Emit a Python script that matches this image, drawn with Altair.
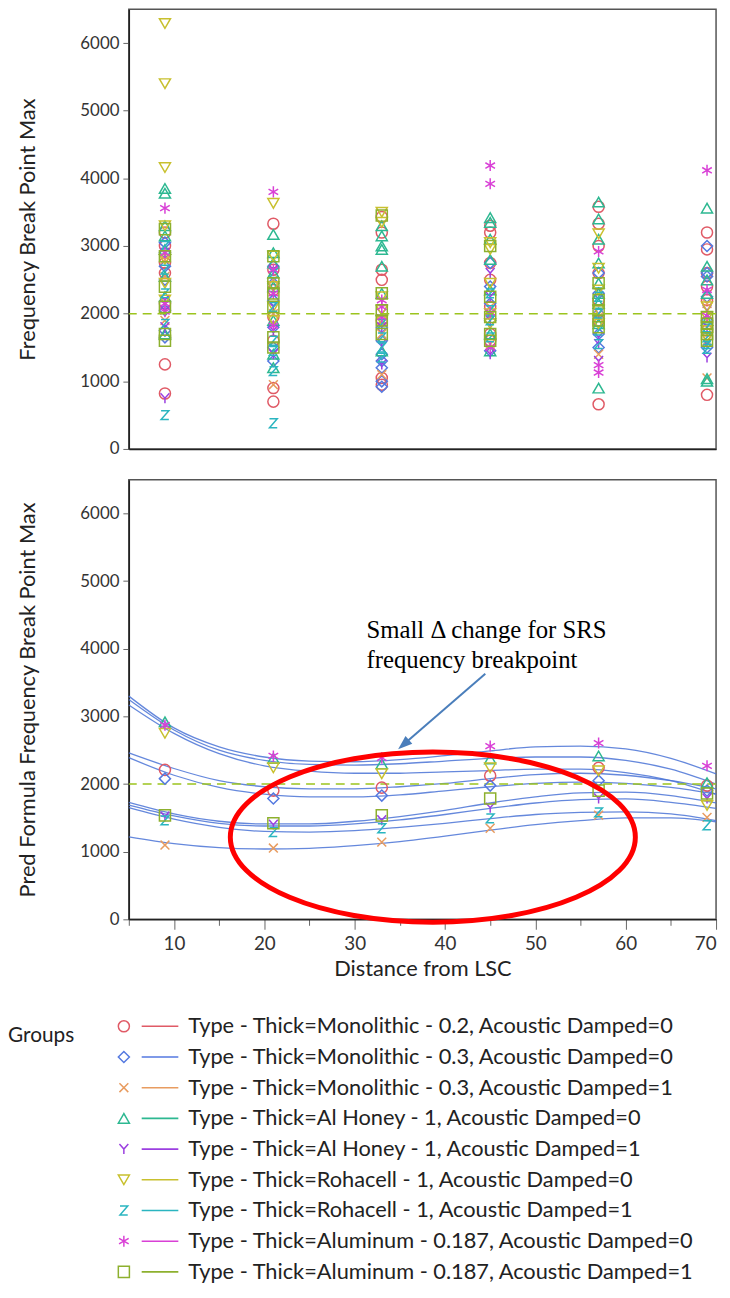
import altair as alt
import pandas as pd

# ---------------- data ----------------
GROUPS = [
    "Type - Thick=Monolithic - 0.2, Acoustic Damped=0",
    "Type - Thick=Monolithic - 0.3, Acoustic Damped=0",
    "Type - Thick=Monolithic - 0.3, Acoustic Damped=1",
    "Type - Thick=Al Honey - 1, Acoustic Damped=0",
    "Type - Thick=Al Honey - 1, Acoustic Damped=1",
    "Type - Thick=Rohacell - 1, Acoustic Damped=0",
    "Type - Thick=Rohacell - 1, Acoustic Damped=1",
    "Type - Thick=Aluminum - 0.187, Acoustic Damped=0",
    "Type - Thick=Aluminum - 0.187, Acoustic Damped=1",
]
COLORS = ["#E05A66", "#5479E0", "#E89C60", "#2DB891", "#9B3FE0",
          "#C8C02E", "#2AB5C0", "#D940D6", "#8DB02E"]
SHAPES = [
    "circle",
    "diamond",
    "M-0.8,-0.8L0.8,0.8M-0.8,0.8L0.8,-0.8",
    "triangle-up",
    "M-0.8,-0.9L0,0L0.8,-0.9M0,0L0,0.9",
    "triangle-down",
    "M-0.7,-0.8L0.7,-0.8L-0.7,0.8L0.7,0.8",
    "M0,-1L0,1M-0.87,-0.5L0.87,0.5M-0.87,0.5L0.87,-0.5",
    "square",
]

X_LEVELS = [9, 21, 33, 45, 57, 69]
CURVE_X = [5, 10, 15, 20, 25, 30, 35, 40, 45, 50, 55, 60, 65, 70]
REF_LINE = [2000]
ANNOTATION = ["Small \u0394 change for SRS", "frequency breakpoint"]

# observed Frequency Break Point Max (top panel), one list per distance level
top_mono02_ad0 = [[3200, 3000, 2750, 2600, 2150, 1250, 820], [3330, 2650, 2350, 1950, 1600, 900, 700],
                  [3430, 3200, 2650, 2500, 1900, 1050, 950], [3300, 3200, 2750, 2500, 2100, 1700, 1600],
                  [3580, 3330, 3000, 2600, 2200, 1900, 660], [3200, 2950, 2600, 2400, 2200, 1750, 800]]
top_mono03_ad0 = [[3050, 2900, 2700, 2500, 2050, 1750, 1650], [2700, 2450, 2200, 1800, 1500, 1300],
                  [1800, 1600, 1400, 1300, 1200, 1000, 920], [2750, 2400, 2150, 1900, 1450],
                  [2600, 2300, 2000, 1700, 1500], [3000, 2600, 2550, 2250, 1900, 1500]]
top_mono03_ad1 = [[2800, 2550, 1900], [2500, 2000, 950], [1900, 1700, 1100],
                  [2100, 1550], [1950, 1400], [2150, 1600, 1050]]
top_alhoney_ad0 = [[3850, 3780, 3300, 3150, 2950, 2550, 2250, 1700], [3170, 2900, 2750, 2600, 2400, 1900, 1400, 1200],
                   [3300, 3150, 3000, 2950, 2700, 2300, 1450], [3420, 3350, 3100, 2800, 2350, 1700, 1450],
                   [3650, 3400, 3100, 2750, 2450, 2300, 2150, 1850, 900], [3560, 2700, 2500, 2300, 1900, 1040, 1000]]
top_alhoney_ad1 = [[2900, 2200, 2050, 1800, 750], [2650, 2100, 1750, 1400], [2000, 1800, 1550, 1250],
                   [2600, 2250, 1900, 1400], [2000, 1650, 1550, 1300], [2050, 1800, 1550, 1350]]
top_rohacell_ad0 = [[6290, 5400, 4160, 3300, 2800, 2450, 2200], [3630, 2850, 2400, 2100, 1900],
                    [3500, 3350, 2250, 2050, 1900], [3050, 2950, 2450, 2000, 1850],
                    [3180, 2670, 2350, 2050, 1850], [2100, 1950, 1750, 1650]]
top_rohacell_ad1 = [[3000, 2650, 2300, 1850, 500], [2600, 2100, 1600, 1450, 1150, 380], [1850, 1650, 1500, 1350],
                    [2300, 2050, 1900, 1650], [2250, 2000, 1750, 1550], [1800, 1650, 1550, 1480]]
top_alum_ad0 = [[3560, 2900, 2150, 2030], [3800, 2650, 2300, 1820], [2200, 2100, 1950],
                [4190, 3920, 2020, 1500], [2920, 1240, 1130], [4120, 2350, 1970]]
top_alum_ad1 = [[3250, 2850, 2400, 2100, 1700, 1600], [2850, 2450, 2300, 2100, 1650, 1500],
                [3450, 2300, 2050, 1900, 1700], [3000, 2250, 1950, 1700, 1600],
                [2450, 2200, 2050, 1900, 1800], [1950, 1850, 1800, 1700, 1600]]

# predicted values (bottom panel markers)
pred_mono02_ad0 = [2210, 1903, 1947, 2123, 2240, 1977]
pred_mono03_ad0 = [2080, 1786, 1830, 1977, 2050, 1903]
pred_mono03_ad1 = [1098, 1054, 1142, 1347, 1540, 1508]
pred_alhoney_ad0 = [2920, 2380, 2299, 2372, 2416, 2020]
pred_alhoney_ad1 = [1520, 1400, 1464, 1650, 1786, 1786]
pred_rohacell_ad0 = [2750, 2240, 2152, 2240, 2196, 1684]
pred_rohacell_ad1 = [1464, 1290, 1347, 1493, 1581, 1391]
pred_alum_ad0 = [2870, 2416, 2387, 2562, 2606, 2270]
pred_alum_ad1 = [1537, 1420, 1537, 1786, 1903, 1860]

# fitted curves (read at CURVE_X)
curve_mono02_ad0 = [2460, 2230, 2050, 1960, 1930, 1930, 1960, 2010, 2080, 2140, 2160, 2130, 2050, 1930]
curve_mono03_ad0 = [2390, 2130, 1950, 1850, 1810, 1810, 1840, 1900, 1960, 2010, 2030, 2010, 1950, 1850]
curve_mono03_ad1 = [1220, 1120, 1060, 1040, 1050, 1090, 1150, 1230, 1320, 1400, 1460, 1500, 1500, 1440]
curve_alhoney_ad0 = [3250, 2800, 2500, 2350, 2290, 2280, 2300, 2340, 2380, 2400, 2400, 2350, 2220, 2000]
curve_alhoney_ad1 = [1690, 1530, 1420, 1380, 1380, 1410, 1470, 1550, 1640, 1720, 1770, 1780, 1730, 1640]
curve_rohacell_ad0 = [3170, 2750, 2450, 2270, 2190, 2160, 2160, 2180, 2200, 2220, 2220, 2170, 2050, 1850]
curve_rohacell_ad1 = [1650, 1480, 1360, 1300, 1290, 1310, 1360, 1420, 1490, 1550, 1580, 1590, 1560, 1460]
curve_alum_ad0 = [3300, 2830, 2550, 2400, 2340, 2330, 2360, 2420, 2490, 2550, 2560, 2520, 2380, 2150]
curve_alum_ad1 = [1730, 1560, 1450, 1410, 1410, 1450, 1520, 1610, 1720, 1810, 1870, 1880, 1830, 1720]

TOP_SERIES = [top_mono02_ad0, top_mono03_ad0, top_mono03_ad1, top_alhoney_ad0, top_alhoney_ad1,
              top_rohacell_ad0, top_rohacell_ad1, top_alum_ad0, top_alum_ad1]
PRED_SERIES = [pred_mono02_ad0, pred_mono03_ad0, pred_mono03_ad1, pred_alhoney_ad0, pred_alhoney_ad1,
               pred_rohacell_ad0, pred_rohacell_ad1, pred_alum_ad0, pred_alum_ad1]
CURVE_SERIES = [curve_mono02_ad0, curve_mono03_ad0, curve_mono03_ad1, curve_alhoney_ad0, curve_alhoney_ad1,
                curve_rohacell_ad0, curve_rohacell_ad1, curve_alum_ad0, curve_alum_ad1]

top_rows = []
for g, series in zip(GROUPS, TOP_SERIES):
    for x, vals in zip(X_LEVELS, series):
        for v in vals:
            top_rows.append({"group": g, "dist": x, "val": v})
top_df = pd.DataFrame(top_rows)

pred_df = pd.DataFrame([{"group": g, "dist": x, "val": v}
                        for g, s in zip(GROUPS, PRED_SERIES) for x, v in zip(X_LEVELS, s)])
curve_df = pd.DataFrame([{"group": g, "dist": x, "val": v}
                         for g, s in zip(GROUPS, CURVE_SERIES) for x, v in zip(CURVE_X, s)])
ref_df = pd.DataFrame({"ref": REF_LINE})
legend_df = pd.DataFrame({"group": GROUPS, "idx": list(range(len(GROUPS)))})

# ---------------- styling ----------------
FONT = "Lato"
W, H = 593, 444
xscale = alt.Scale(domain=[5, 70], nice=False, zero=False)
yscale = alt.Scale(domain=[0, 6500], nice=False)
color_enc = alt.Color("group:N", scale=alt.Scale(domain=GROUPS, range=COLORS), legend=None)
shape_enc = alt.Shape("group:N", scale=alt.Scale(domain=GROUPS, range=SHAPES), legend=None)


def y_axis(title):
    return alt.Axis(title=title, values=list(range(0, 6001, 500)),
                    labelExpr="datum.value % 1000 === 0 ? datum.value : ''",
                    tickSize=6, labelPadding=4, titleX=-102, titleY=H / 2,
                    titleBaseline="middle")


point_style = dict(filled=False, size=125, strokeWidth=1.5, opacity=1)
ref_rule = alt.Chart(ref_df).mark_rule(color="#9CC41E", strokeDash=[9, 6], strokeWidth=1.6).encode(
    y=alt.Y("ref:Q", scale=yscale))

# ---------------- top panel ----------------
top_pts = alt.Chart(top_df).mark_point(**point_style).encode(
    x=alt.X("dist:Q", scale=xscale, axis=alt.Axis(labels=False, ticks=False, title=None)),
    y=alt.Y("val:Q", scale=yscale, axis=y_axis("Frequency Break Point Max")),
    color=color_enc, shape=shape_enc)
top = alt.layer(top_pts, ref_rule).properties(width=W, height=H)

# ---------------- bottom panel ----------------
xaxis_bottom = alt.Axis(title="Distance from LSC", values=CURVE_X,
                        labelExpr="datum.value % 10 === 0 ? datum.value : ''",
                        tickSize={"condition": {"test": "datum.value % 10 === 0", "value": 10}, "value": 6},
                        labelPadding=5, titlePadding=6, labelFontSize=19, labelFlush=True)
curves = alt.Chart(curve_df).mark_line(interpolate="monotone", color="#4A73D6", strokeWidth=1.3, opacity=0.85).encode(
    x=alt.X("dist:Q", scale=xscale, axis=xaxis_bottom),
    y=alt.Y("val:Q", scale=yscale, axis=y_axis("Pred Formula Frequency Break Point Max")),
    detail="group:N")
pred_pts = alt.Chart(pred_df).mark_point(**point_style).encode(
    x=alt.X("dist:Q", scale=xscale), y=alt.Y("val:Q", scale=yscale),
    color=color_enc, shape=shape_enc)

k = 0.42
kk = round(0.5523 * k, 4)
ELLIPSE = (f"M1,0C1,{kk},0.5523,{k},0,{k}C-0.5523,{k},-1,{kk},-1,0"
           f"C-1,{-kk},-0.5523,{-k},0,{-k}C0.5523,{-k},1,{-kk},1,0Z")
ellipse = alt.Chart(ref_df).mark_point(shape=ELLIPSE, filled=False, color="#FF0000", strokeWidth=5,
                                       size=409 ** 2, opacity=1).encode(x=alt.value(307), y=alt.value(361))
arrow_line = alt.Chart(ref_df).mark_rule(color="#4A7EBB", strokeWidth=2).encode(
    x=alt.value(360), y=alt.value(196), x2=alt.value(278), y2=alt.value(267))
arrow_head = alt.Chart(ref_df).mark_point(shape="M0,-1L0.65,0.8L-0.65,0.8Z", filled=True, color="#4A7EBB",
                                          size=256, angle=229, opacity=1).encode(
    x=alt.value(278), y=alt.value(267))
anno_layers = []
for line_text, ypix in zip(ANNOTATION, [152, 182]):
    anno_layers.append(
        alt.Chart(pd.DataFrame({"t": [line_text]})).mark_text(
            align="left", baseline="middle", font="Liberation Serif", fontSize=25, color="#000"
        ).encode(x=alt.value(240), y=alt.value(ypix), text="t:N"))
bottom = alt.layer(curves, ref_rule, pred_pts, ellipse, arrow_line, arrow_head, *anno_layers).properties(
    width=W, height=H)

# ---------------- legend ----------------
R0, STEP = 12, 31.0
leg_y = alt.Y("idx:Q", scale=alt.Scale(domain=[0, 8], range=[R0, R0 + 8 * STEP]), axis=None)
leg_pts = alt.Chart(legend_df).mark_point(**point_style).encode(
    x=alt.value(-5), y=leg_y, color=color_enc, shape=shape_enc)
leg_lines = alt.Chart(legend_df).mark_rule(strokeWidth=1.6).encode(
    x=alt.value(13), x2=alt.value(50), y=leg_y, color=color_enc)
leg_text = alt.Chart(legend_df).mark_text(align="left", baseline="middle", font=FONT, fontSize=22,
                                          color="#222").encode(x=alt.value(60), y=leg_y, text="group:N")
leg_title = alt.Chart(pd.DataFrame({"t": ["Groups"]})).mark_text(
    align="left", baseline="middle", font=FONT, fontSize=21, color="#222").encode(
    x=alt.value(-122), y=alt.value(R0 + 10), text="t:N")
legend = alt.layer(leg_pts, leg_lines, leg_text, leg_title).properties(
    width=W, height=int(R0 + 8 * STEP + 6), view=alt.ViewBackground(strokeOpacity=0))

chart = alt.vconcat(alt.vconcat(top, bottom, spacing=21), legend, spacing=34).properties(
    padding={"left": 0, "top": -6, "right": 2, "bottom": 0}
).configure_axis(
    labelFont=FONT, titleFont=FONT, labelFontSize=17, titleFontSize=22, labelColor="#333",
    titleColor="#222", domainColor="#222", domainWidth=1.5, tickColor="#666", grid=False,
    titleFontWeight="normal"
).configure_view(stroke="#555", strokeWidth=1.5)

chart.save("out.html", embed_options={"renderer": "svg", "actions": False})
